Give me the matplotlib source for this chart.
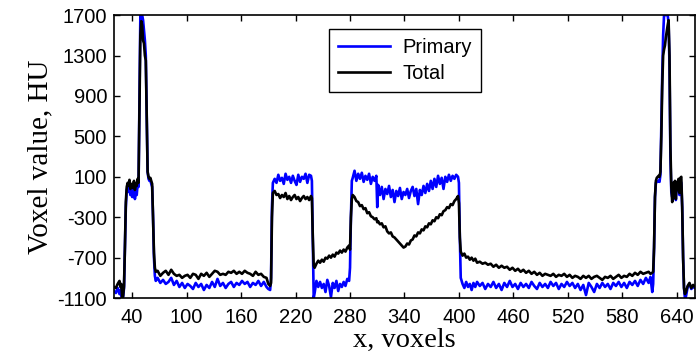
import matplotlib.pyplot as plt

plt.rcParams["axes.unicode_minus"] = False

# =====================================================
# Data
# =====================================================
x_vox = [20, 22, 24, 26, 27, 28, 29, 30, 31, 32, 33, 34, 35, 36, 37, 38, 39,
         40, 41, 42, 43, 44, 45, 46, 47, 48, 49, 50, 51, 52, 53, 54, 55, 56,
         57, 58, 59, 60, 61, 62, 63, 64, 65, 66,
         68, 71, 74, 77, 80, 83, 86, 89, 92, 95, 98, 101, 104, 107, 110, 113,
         116, 119, 122, 125, 128, 131, 134, 137, 140, 143, 146, 149, 152, 155,
         158, 161, 164, 167, 170, 173, 176, 179, 182, 185, 188, 190, 192, 193,
         194, 195, 197, 199, 201, 203, 205, 207, 209, 211, 213, 215, 217, 219,
         221, 223, 225, 227, 229, 231, 233, 235, 237, 238, 239, 240, 241, 243,
         245, 247, 249, 251, 253, 255, 257, 259, 261, 263, 265, 267, 269, 271,
         273, 275, 277, 279, 280, 281, 282, 283, 285, 287, 289, 291, 293, 295,
         297, 299, 301, 303, 305, 307, 309, 310, 311, 313, 315, 317, 319, 321,
         323, 325, 327, 329, 331, 333, 335, 337, 339, 341, 343, 345, 347, 349,
         351, 353, 355, 357, 359, 361, 363, 365, 367, 369, 371, 373, 375, 377,
         379, 381, 383, 385, 387, 389, 391, 393, 395, 397, 399, 400, 401, 402,
         404, 406, 408, 410, 412, 414, 416, 418, 420, 423, 426, 429, 432, 435,
         438, 441, 444, 447, 450, 453, 456, 459, 462, 465, 468, 471, 474, 477,
         480, 483, 486, 489, 492, 495, 498, 501, 504, 507, 510, 513, 516, 519,
         522, 525, 528, 531, 534, 537, 540, 543, 546, 549, 552, 555, 558, 561,
         564, 567, 570, 573, 576, 579, 582, 585, 588, 591, 594, 597, 600, 603,
         606, 609, 611, 613, 614, 615, 616, 617, 618, 620, 621, 622, 623, 624,
         625, 626, 627, 628, 629, 630, 631, 632, 633, 634, 635, 636, 637, 638,
         639, 640, 641, 642, 643, 644, 645, 646, 647, 648, 649, 650, 652, 654,
         656, 658, 660]

primary = [-1030, -1050, -1000, -1060, -1020, -1080, -1100, -1090, -1000, -600,
           -200, -30, 0, -50, 40, -80, -20, -100, -60, 20, -120, -40, -80, 30,
           0, 900, 1700, 1700, 1700, 1650, 1550, 1450, 1300, 700, 150, 80, 60,
           70, 30, 0, -300, -700, -880, -930,
           -900, -950, -920, -960, -940, -900, -970, -930, -990, -950, -1000,
           -960, -980, -1010, -950, -990, -960, -1020, -970, -1000, -940, -990,
           -910, -980, -950, -1000, -960, -940, -990, -950, -970, -930, -960,
           -940, -990, -950, -970, -930, -980, -940, -990, -1010, -1020, -900,
           -200, 40, 80, 40, 120, 60, 90, 30, 130, 70, 100, 40, 110, 60,
           20, 120, 50, 100, 80, 130, 40, 120, 110, 60, -500, -1100, -1050, -930,
           -990, -940, -1000, -960, -1040, -920, -980, -1090, -950, -1000, -930,
           -1030, -960, -990, -940, -980, -910, -930, -800, -300, 60, 90, 160,
           60, 130, 80, 140, 50, 110, 70, 130, 30, 100, 60, 110, -200, 20, -80,
           0, -120, -20, -70, 10, -100, -30, -150, -40, -90, -10, -120, -50,
           -80, -20, -110, -40, 0, -90, -20, -170, -30, -80, 10, -60, 30, -40,
           60, -20, 80, 0, 110, 30, 90, -20, 100, 50, 120, 60, 110, 80, 120,
           100, 40, -500, -900, -960, -1000, -940, -990, -960, -1020, -950,
           -990, -940, -980, -950, -1010, -960, -990, -940, -1000, -960, -1020,
           -950, -990, -930, -990, -960, -1010, -950, -990, -960, -1000, -940,
           -980, -1010, -950, -990, -960, -1000, -940, -980, -950, -1010, -960,
           -990, -940, -980, -950, -1000, -960, -1020, -970, -1070, -950, -990,
           -1040, -960, -1000, -950, -990, -960, -1010, -950, -980, -940, -990,
           -950, -1000, -940, -970, -930, -980, -920, -960, -900, -950, -890,
           -1040, -960, -600, -100, 40, 50, 60, 50, 120, 600, 1100, 1500, 1700,
           1700, 1700, 1700, 1700, 1620, 1200, 300, -50, -100, 20, -80, 40,
           -130, 30, -40, 50, -80, 60, 40, -200, -700, -1000, -1100, -1090,
           -990, -960, -1010, -990, -1000]

total = [-990, -1000, -960, -930, -990, -960, -1100, -1080, -980, -600, -150,
         0, 40, 10, 70, -20, 30, -10, 20, 60, -30, 30, 10, 80, 40, 800, 1500,
         1640, 1600, 1450, 1420, 1300, 1250, 700, 150, 100, 80, 90, 60, 30,
         -300, -650, -800, -840,
         -830, -880, -850, -830, -870, -820, -860, -880, -870, -900, -880,
         -870, -900, -860, -870, -910, -860, -880, -850, -890, -860, -830,
         -840, -870, -860, -870, -840, -850, -830, -860, -840, -860, -830,
         -850, -860, -880, -840, -870, -860, -890, -900, -960, -980, -950,
         -300, -60, -40, -80, -70, -110, -80, -100, -60, -120, -90, -130,
         -100, -80, -120, -100, -140, -110, -90, -120, -100, -130, -90, -110,
         -500, -780, -800, -760, -730, -750, -720, -740, -700, -710, -680,
         -700, -670, -690, -650, -660, -630, -650, -620, -640, -600, -580,
         -620, -300, -120, -80, -100, -140, -150, -190, -180, -220, -210,
         -260, -250, -290, -300, -320, -310, -350, -340, -370, -360, -400,
         -390, -440, -460, -450, -490, -500, -520, -540, -560, -580, -600,
         -590, -560, -570, -530, -520, -480, -490, -450, -460, -420, -430,
         -390, -400, -360, -370, -330, -340, -300, -310, -270, -280, -240,
         -230, -200, -210, -170, -180, -140, -120, -90, -160, -500, -640,
         -680, -660, -700, -690, -720, -700, -730, -710, -750, -740, -760,
         -750, -770, -760, -790, -770, -800, -780, -800, -790, -820, -800,
         -830, -810, -840, -820, -850, -830, -860, -840, -870, -850, -880,
         -860, -870, -880, -860, -890, -870, -880, -860, -890, -870, -900,
         -880, -890, -910, -880, -900, -880, -910, -890, -880, -900, -920,
         -890, -900, -880, -910, -890, -870, -900, -880, -890, -860, -880,
         -850, -870, -840, -860, -850, -840, -860, -850, -840, -600, -100,
         60, 90, 110, 100, 150, 500, 1000, 1300, 1360, 1400, 1480, 1540, 1600,
         1650, 1300, 400, 0, -150, 40, -80, 60, -120, 50, -30, 80, -60, 90,
         100, -200, -700, -1000, -1060, -1040, -980, -950, -1000, -970, -990]

x_ticks = [40, 100, 160, 220, 280, 340, 400, 460, 520, 580, 640]
y_ticks = [-1100, -700, -300, 100, 500, 900, 1300, 1700]

# =====================================================
# Plot
# =====================================================
fig = plt.figure(figsize=(6.97, 3.6), dpi=100)
ax = fig.add_axes([0.1636, 0.172, 0.8334, 0.786])

ax.plot(x_vox, primary, color="#0000ff", lw=1.9, label="Primary")
ax.plot(x_vox, total, color="black", lw=1.9, label="Total")

ax.set_xlim(20, 660)
ax.set_ylim(-1100, 1700)
ax.set_xticks(x_ticks)
ax.set_yticks(y_ticks)
ax.tick_params(direction="in", top=True, right=True, length=4, width=1,
               labelsize=14.5)
ax.tick_params(axis="x", pad=7)
ax.tick_params(axis="y", pad=5)
for lab in ax.get_xticklabels() + ax.get_yticklabels():
    lab.set_family("Liberation Sans")
for sp in ax.spines.values():
    sp.set_linewidth(1.2)

ax.set_xlabel("x, voxels", family="Liberation Serif", fontsize=20.5,
              labelpad=1)
ax.set_ylabel("Voxel value, HU", family="Liberation Serif", fontsize=21,
              labelpad=3)

leg = ax.legend(loc="upper left", bbox_to_anchor=(0.37, 0.95),
                prop={"family": "Liberation Sans", "size": 14.5},
                fancybox=False, edgecolor="black", framealpha=1,
                handlelength=2.6, borderaxespad=0, labelspacing=0.35,
                borderpad=0.45, handletextpad=0.6)
leg.get_frame().set_linewidth(1)

fig.savefig("out.png", dpi=100)
